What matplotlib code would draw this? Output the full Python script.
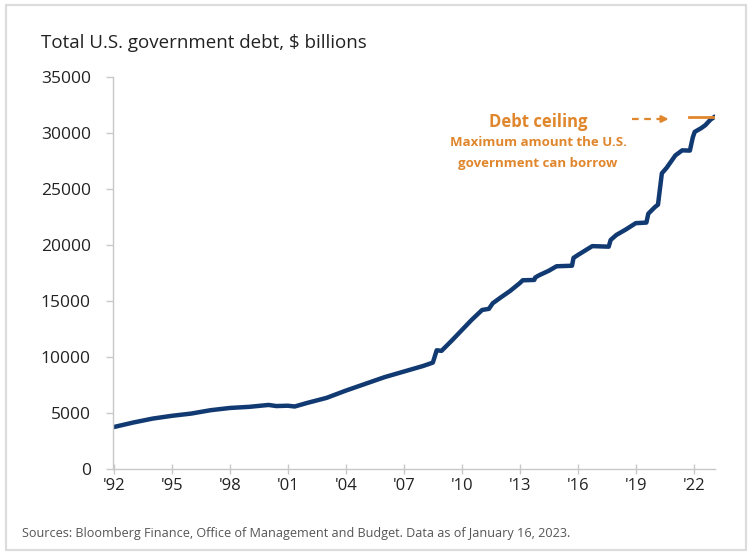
import matplotlib
matplotlib.use('Agg')
import matplotlib.pyplot as plt
from matplotlib.patches import Rectangle

# values ($ billions)
years = [1992.0, 1993.0, 1994.0, 1995.0, 1996.0, 1997.0, 1998.0, 1999.0, 2000.0, 2000.4,
         2001.0, 2001.35, 2002.0, 2003.0, 2004.0, 2005.0, 2006.0, 2007.0, 2008.0, 2008.5,
         2008.7, 2008.95, 2009.5, 2010.0, 2010.5, 2011.05, 2011.4, 2011.6, 2012.0, 2012.5,
         2013.0, 2013.15, 2013.75, 2013.8, 2014.0, 2014.5, 2014.9, 2015.7, 2015.78, 2016.0,
         2016.75, 2017.6, 2017.7, 2018.0, 2018.5, 2019.0, 2019.55, 2019.65, 2020.0, 2020.15,
         2020.35, 2020.6, 2021.05, 2021.4, 2021.8, 2021.95, 2022.05, 2022.4, 2022.6, 2022.87,
         2023.04]
debt = [3750, 4150, 4500, 4750, 4950, 5250, 5450, 5550, 5720, 5620,
        5650, 5580, 5900, 6350, 7000, 7600, 8200, 8700, 9200, 9500,
        10600, 10550, 11500, 12400, 13300, 14200, 14300, 14800, 15300, 15900,
        16600, 16850, 16880, 17100, 17300, 17700, 18100, 18150, 18850, 19100,
        19900, 19850, 20450, 20900, 21400, 21950, 22000, 22800, 23400, 23600,
        26400, 26900, 28000, 28450, 28430, 29600, 30100, 30450, 30700, 31200,
        31400]

ceiling_value = 31400
ceiling_span = [2021.75, 2023.04]

xtick_years = [1992, 1995, 1998, 2001, 2004, 2007, 2010, 2013, 2016, 2019, 2022]
xtick_labels = ["'92", "'95", "'98", "'01", "'04", "'07", "'10", "'13", "'16", "'19", "'22"]
ytick_values = [0, 5000, 10000, 15000, 20000, 25000, 30000, 35000]

navy = '#123a72'
orange = '#e0862c'
grey = '#c8c8c8'
txt = '#222222'

plt.rcParams['font.family'] = ['Open Sans', 'DejaVu Sans']

fig = plt.figure(figsize=(7.53, 5.58), dpi=100)

# light frame around the whole graphic
fig.patches.append(Rectangle((6 / 753, 8 / 558), 740 / 753, 545 / 558, transform=fig.transFigure,
                             fill=False, edgecolor='#dcdcdc', linewidth=1.6))

ax = fig.add_axes([113 / 753, 1 - 469 / 558, 602 / 753, 392 / 558])
ax.plot(years, debt, color=navy, linewidth=3.2, solid_joinstyle='round')
ax.plot(ceiling_span, [ceiling_value, ceiling_value], color=orange, linewidth=2)

# dashed arrow pointing at the ceiling
ax.plot([2018.8, 2020.3], [31250, 31250], color=orange, linewidth=1.6, linestyle=(0, (3, 2.5)))
ax.annotate('', xy=(2020.7, 31250), xytext=(2020.2, 31250),
            arrowprops=dict(arrowstyle='-|>', color=orange, lw=1.6, mutation_scale=10,
                            shrinkA=0, shrinkB=0))

ax.text(2013.95, 30980, 'Debt ceiling', color=orange, fontsize=12, fontweight='bold',
        ha='center', va='center')
ax.text(2013.95, 29110, 'Maximum amount the U.S.', color=orange,
        fontsize=9.5, fontweight='bold', ha='center', va='center')
ax.text(2013.95, 27320, 'government can borrow', color=orange,
        fontsize=9.5, fontweight='bold', ha='center', va='center')

ax.set_xlim(1991.95, 2023.1)
ax.set_ylim(0, 35000)
ax.set_xticks(xtick_years)
ax.set_xticklabels(xtick_labels)
ax.set_yticks(ytick_values)
ax.set_yticklabels([str(v) for v in ytick_values])

for s in ['top', 'right']:
    ax.spines[s].set_visible(False)
for s in ['left', 'bottom']:
    ax.spines[s].set_color(grey)
    ax.spines[s].set_linewidth(1)

ax.tick_params(axis='y', direction='out', length=5, width=1, color=grey, pad=11,
               labelsize=12.5, labelcolor=txt)
ax.tick_params(axis='x', direction='inout', length=7, width=1, color=grey, pad=3,
               labelsize=12, labelcolor=txt)

fig.text(41 / 753, 1 - 43 / 558, 'Total U.S. government debt, $ billions', fontsize=13.5,
         color=txt, ha='left', va='center')
fig.text(22 / 753, 1 - 534 / 558,
         'Sources: Bloomberg Finance, Office of Management and Budget. Data as of January 16, 2023.',
         fontsize=9.1, color='#555555', ha='left', va='center')

fig.savefig('out.png', dpi=100)
